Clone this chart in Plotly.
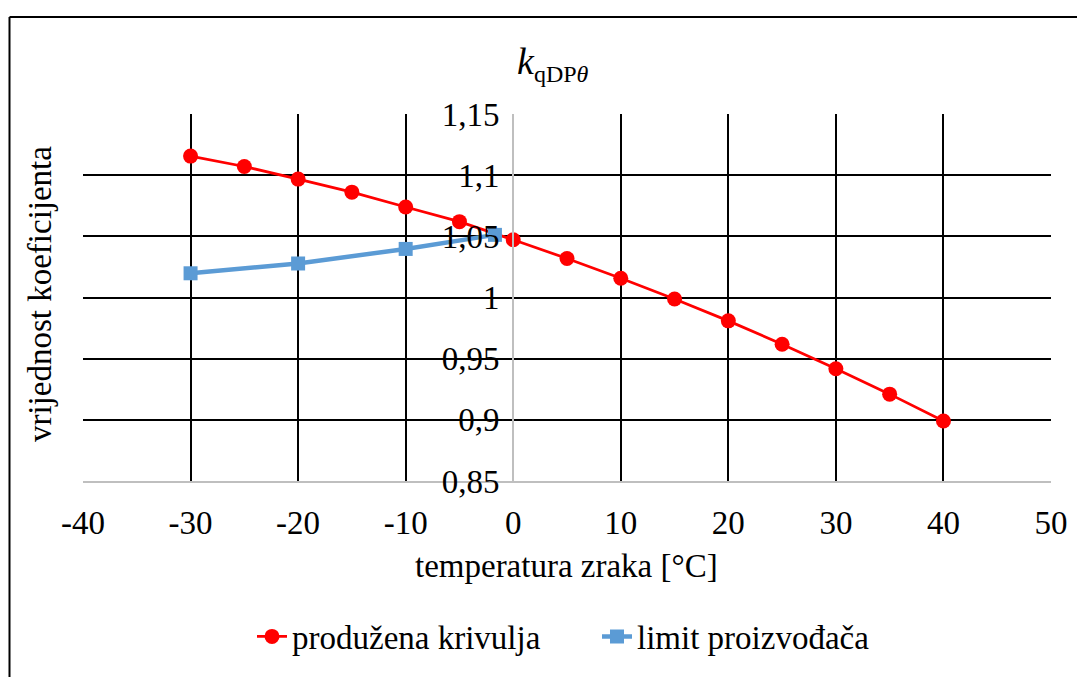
import plotly.graph_objects as go

# Data
red_name = "produžena krivulja"
red_x = [-30, -25, -20, -15, -10, -5, 0, 5, 10, 15, 20, 25, 30, 35, 40]
red_y = [1.1156, 1.1071, 1.0968, 1.0861, 1.0740, 1.0620, 1.0472, 1.0319,
         1.0157, 0.9988, 0.9809, 0.9618, 0.9417, 0.9210, 0.8990]

blue_name = "limit proizvođača"
blue_x = [-30, -20, -10, -1.7]
blue_y = [1.0198, 1.0278, 1.0397, 1.0512]

x_ticks = [-40, -30, -20, -10, 0, 10, 20, 30, 40, 50]
x_tick_labels = ["-40", "-30", "-20", "-10", "0", "10", "20", "30", "40", "50"]
y_ticks = [0.85, 0.9, 0.95, 1.0, 1.05, 1.1, 1.15]
y_tick_labels = ["0,85", "0,9", "0,95", "1", "1,05", "1,1", "1,15"]

title_text = "<i>k</i><sub><span style='font-size:24px'>qDP<i>θ</i></span></sub>"
x_title = "temperatura zraka [°C]"
y_title = "vrijednost koeficijenta"

FONT = "Liberation Serif"
FS = 33

fig = go.Figure()
fig.add_trace(go.Scatter(
    x=red_x, y=red_y, name=red_name, mode="lines+markers",
    line=dict(color="#FF0000", width=2.75),
    marker=dict(symbol="circle", size=15, color="#FF0000"),
))
fig.add_trace(go.Scatter(
    x=blue_x, y=blue_y, name=blue_name, mode="lines+markers",
    line=dict(color="#5B9BD5", width=4.5),
    marker=dict(symbol="square", size=14, color="#5B9BD5"),
))

OFF = 8  # page body margin
W, H = 1085 - OFF, 677 - OFF
L, T = 83 - OFF, 114 - OFF
pw, ph = 968, 373
R = W - L - pw
B = H - T - ph


def px(x):
    return (x - OFF - L) / pw


def py(y):
    return (T + ph - (y - OFF)) / ph


fig.update_layout(
    width=W, height=H,
    margin=dict(l=L, r=R, t=T, b=B),
    paper_bgcolor="white", plot_bgcolor="white",
    font=dict(family=FONT, size=FS, color="black"),
    showlegend=True,
    legend=dict(
        orientation="h", x=px(597), y=py(645),
        xanchor="center", yanchor="middle",
        font=dict(family=FONT, size=FS, color="black"),
        bgcolor="rgba(0,0,0,0)",
        entrywidth=300, entrywidthmode="pixels",
    ),
    xaxis=dict(
        range=[-40, 50], tickvals=x_ticks, ticktext=x_tick_labels,
        showgrid=True, gridcolor="black", gridwidth=2,
        showline=True, linecolor="#BFBFBF", linewidth=2,
        zeroline=False, ticks="", ticklabelstandoff=11,
        tickfont=dict(family=FONT, size=FS, color="black"),
        domain=[0, 1],
    ),
    yaxis=dict(
        range=[0.85, 1.15], tickvals=y_ticks, ticktext=y_tick_labels,
        showgrid=True, gridcolor="black", gridwidth=2,
        showline=True, linecolor="#BFBFBF", linewidth=2,
        zeroline=False, ticks="", ticklabelstandoff=6,
        anchor="free", position=40 / 90,
        tickfont=dict(family=FONT, size=FS, color="black"),
    ),
    annotations=[
        dict(text=title_text, x=px(553), y=py(63), xref="paper", yref="paper",
             showarrow=False, xanchor="center", yanchor="middle",
             font=dict(family=FONT, size=38, color="black")),
        dict(text=x_title, x=px(566), y=py(573), xref="paper", yref="paper",
             showarrow=False, xanchor="center", yanchor="middle",
             font=dict(family=FONT, size=FS, color="black")),
        dict(text=y_title, x=px(40), y=py(297), xref="paper", yref="paper",
             showarrow=False, xanchor="center", yanchor="middle", textangle=-90,
             font=dict(family=FONT, size=FS, color="black")),
    ],
    shapes=[
        dict(type="line", xref="paper", yref="paper",
             x0=px(9.5), x1=px(1100), y0=py(15.5), y1=py(15.5),
             line=dict(color="black", width=2)),
        dict(type="line", xref="paper", yref="paper",
             x0=px(9.5), x1=px(9.5), y0=py(15.5), y1=py(700),
             line=dict(color="black", width=2)),
    ],
)

fig.write_html("out.html")
